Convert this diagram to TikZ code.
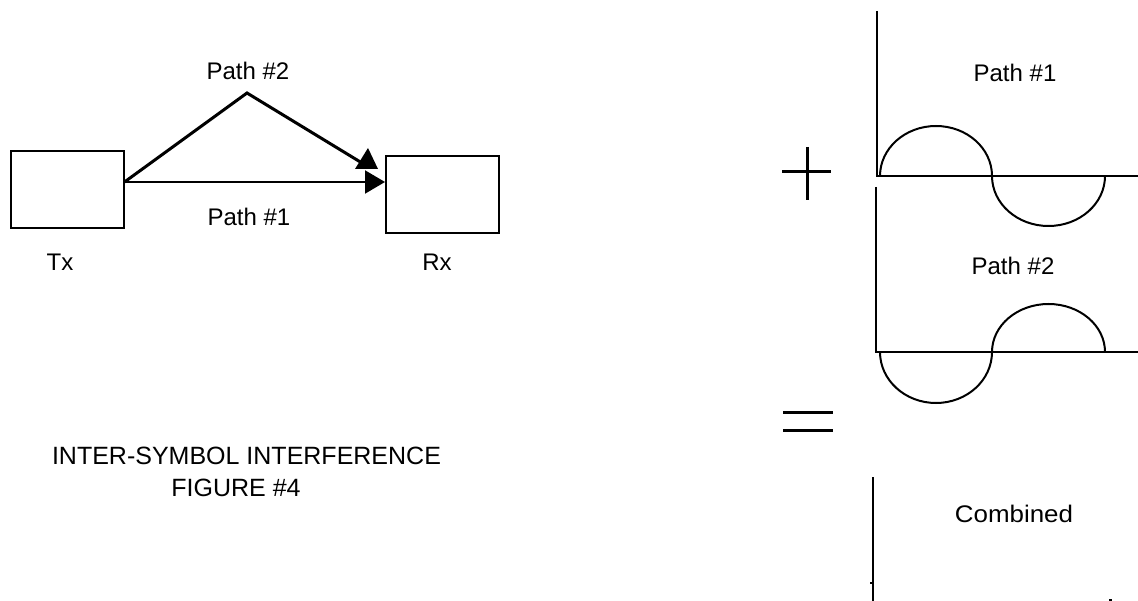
\documentclass[tikz,border=0pt]{standalone}
\usepackage{fontspec}
\setmainfont{Liberation Sans}
\usetikzlibrary{arrows.meta}
\begin{document}
\begin{tikzpicture}[x=1pt,y=-1pt,
  lbl/.style={font=\fontsize{24}{28}\selectfont, inner sep=0pt},
  ttl/.style={font=\fontsize{25}{29}\selectfont, inner sep=0pt},
  boxnode/.style={draw, line width=2pt, minimum width=113pt, minimum height=77pt, inner sep=0pt},
  axis/.style={line width=1.3pt},
  wave/.style={line width=2pt},
  sym/.style={line width=3pt},
  conn/.style={line width=2pt},
  tip/.style={-{Triangle[length=20pt,width=23pt]}}
]
\useasboundingbox (0,0) rectangle (1138,601);
% left block diagram
\node[boxnode] (Tx) at (67,189.5) {};
\node[boxnode] (Rx) at (442.5,194.5) {};
\coordinate (start) at ([yshift=7.5pt]Tx.east);
\coordinate (apex) at (247,93);
\coordinate (p2end) at (362,163);
\draw[conn, tip] (start) -- ([yshift=12.5pt]Rx.west);
\draw[line width=3pt, line join=miter] (start) -- (apex) -- (p2end);
\fill (355,169) -- (378,169) -- (368,148) -- cycle;
\node[lbl] (p2) at (248,71) {Path \#2};
\node[lbl] (p1) at (249,217) {Path \#1};
\node[lbl] (tx) at (60,262) {Tx};
\node[lbl] (rx) at (437,262) {Rx};
\node[ttl] (t1) at (246.5,456) {INTER-SYMBOL INTERFERENCE};
\node[ttl] (t2) at (236,488) {FIGURE \#4};
% right: path 1 plot
\draw[axis] (877,11) -- (877,176) -- (1138,176);
\draw[wave] (880,176) arc[start angle=180, end angle=0, x radius=56pt, y radius=50pt]
  arc[start angle=180, end angle=360, x radius=56.5pt, y radius=50pt];
\node[lbl] (rp1) at (1015,73) {Path \#1};
% plus
\draw[sym] (782,172) -- (831,172);
\draw[sym] (807,147) -- (807,200);
% path 2 plot
\draw[axis] (876,187) -- (876,352) -- (1138,352);
\draw[wave] (880,352) arc[start angle=180, end angle=360, x radius=56pt, y radius=51pt]
  arc[start angle=180, end angle=0, x radius=56.5pt, y radius=48pt];
\node[lbl] (rp2) at (1013,266) {Path \#2};
% equals
\draw[sym] (783,413) -- (833,413);
\draw[sym] (783,431) -- (833,431);
% combined
\draw[axis] (873,477) -- (873,601);
\fill (870,582) rectangle (872,584);
\fill (1109,599) rectangle (1112,601);
\node[lbl] (comb) at (1014,514) {\scalebox{1.08}[1]{Combined}};
\end{tikzpicture}
\end{document}
